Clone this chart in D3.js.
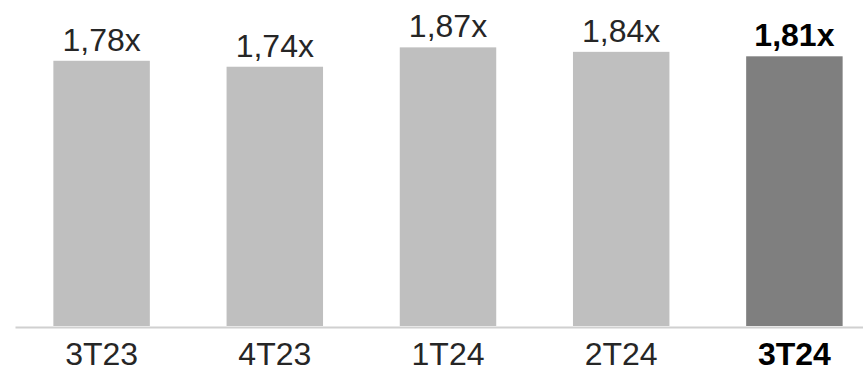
<!DOCTYPE html>
<html>
<head>
<meta charset="utf-8">
<script src="https://cdn.jsdelivr.net/npm/d3@7"></script>
<style>
  body { margin: 0; background: #fff; }
  svg { display: block; font-family: "Liberation Sans", Arial, sans-serif; }
</style>
</head>
<body>
<div id="chart"></div>
<script>
const quarters = ['3T23', '4T23', '1T24', '2T24', '3T24'];
const ratios = [1.78, 1.74, 1.87, 1.84, 1.81];
const labels = ['1,78x', '1,74x', '1,87x', '1,84x', '1,81x'];
const highlight = '3T24';

const width = 863, height = 372;

const svg = d3.select('#chart')
  .append('svg')
  .attr('width', width)
  .attr('height', height);

const x = d3.scaleBand()
  .domain(quarters)
  .range([15, 881])
  .paddingInner(0.443)
  .paddingOuter(0.2215);

const y = d3.scaleLinear()
  .domain([0, 2])
  .range([326, 28]);

// bars
svg.selectAll('.bar')
  .data(quarters)
  .enter()
  .append('rect')
  .attr('class', 'bar')
  .attr('x', d => x(d))
  .attr('y', (d, i) => y(ratios[i]))
  .attr('width', x.bandwidth())
  .attr('height', (d, i) => y(0) - y(ratios[i]))
  .attr('fill', d => d === highlight ? '#7f7f7f' : '#bfbfbf');

// value labels
svg.selectAll('.val')
  .data(quarters)
  .enter()
  .append('text')
  .attr('class', 'val')
  .attr('x', d => x(d) + x.bandwidth() / 2)
  .attr('y', (d, i) => y(ratios[i]) - 10)
  .attr('text-anchor', 'middle')
  .attr('font-size', 32)
  .attr('font-weight', d => d === highlight ? 'bold' : 'normal')
  .attr('fill', d => d === highlight ? '#000' : '#262626')
  .text((d, i) => labels[i]);

// x axis
const axis = svg.append('g')
  .attr('transform', `translate(0,${y(0) + 1})`)
  .call(d3.axisBottom(x).tickSize(0).tickPadding(15));

axis.select('.domain')
  .attr('stroke', '#d0d0d0')
  .attr('stroke-width', 2);

axis.selectAll('.tick text')
  .attr('font-size', 32)
  .attr('font-family', '"Liberation Sans", Arial, sans-serif')
  .attr('fill', d => d === highlight ? '#000' : '#262626')
  .attr('font-weight', d => d === highlight ? 'bold' : 'normal');
</script>
</body>
</html>
